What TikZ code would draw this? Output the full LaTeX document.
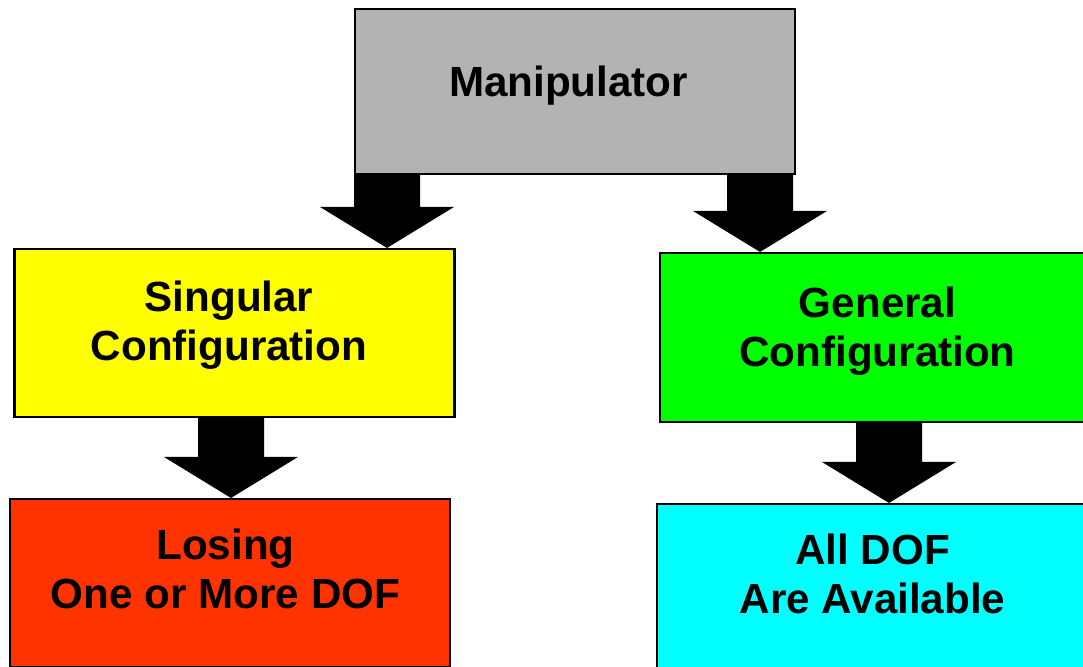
\documentclass[tikz,border=0pt]{standalone}
\usepackage{fontspec}
\setmainfont{Liberation Sans}
\usetikzlibrary{calc}
\definecolor{boxgray}{HTML}{B3B3B3}
\definecolor{boxyellow}{HTML}{FFFF00}
\definecolor{boxgreen}{HTML}{00FF00}
\definecolor{boxred}{HTML}{FF3300}
\definecolor{boxcyan}{HTML}{00FFFF}
\tikzset{
  box/.style={draw=black, line width=0.6pt, rectangle, minimum width=4.4cm, inner sep=0pt},
  boxtext/.style={align=center, anchor=base, font=\fontsize{12}{13.9}\selectfont\bfseries},
}
% block arrow: #1 x of the tip, #2 upper node, #3 lower node
\newcommand{\blockarrow}[3]{%
  \fill[black] let \p1=(#2.south), \p2=(#3.north) in
    (#1cm-0.33cm,\y1) -- (#1cm+0.33cm,\y1) -- (#1cm+0.33cm,\y2+0.41cm)
    -- (#1cm+0.67cm,\y2+0.41cm) -- (#1cm,\y2) -- (#1cm-0.67cm,\y2+0.41cm)
    -- (#1cm-0.33cm,\y2+0.41cm) -- cycle;}
\begin{document}
\begin{tikzpicture}
\useasboundingbox (0,0) rectangle (10.83,-6.66);
\clip (0,0) rectangle (10.83,-6.66);
% boxes
\node[box, fill=boxgray, minimum height=1.65cm] (manip) at (5.75,-0.915) {};
\node[box, fill=boxyellow, minimum height=1.68cm] (sing) at (2.345,-3.33) {};
\node[box, fill=boxgreen, minimum height=1.69cm] (gen) at (8.80,-3.375) {};
\node[box, fill=boxred, minimum height=1.68cm] (lose) at (2.30,-5.83) {};
\node[box, fill=boxcyan, minimum height=1.68cm] (avail) at (8.77,-5.88) {};
% texts
\node[boxtext] (manipText) at (5.685,-0.967) {Manipulator};
\node[boxtext] (singText) at (2.29,-3.60) {Singular\\Configuration};
\node[boxtext] (genText) at (8.775,-3.66) {General\\Configuration};
\node[boxtext] (loseText) at (2.255,-6.08) {Losing\\One or More DOF};
\node[boxtext] (availText) at (8.725,-6.13) {All DOF\\Are Available};
% arrows
\blockarrow{3.87}{manip}{sing}
\blockarrow{7.60}{manip}{gen}
\blockarrow{2.31}{sing}{lose}
\blockarrow{8.89}{gen}{avail}
\end{tikzpicture}
\end{document}
